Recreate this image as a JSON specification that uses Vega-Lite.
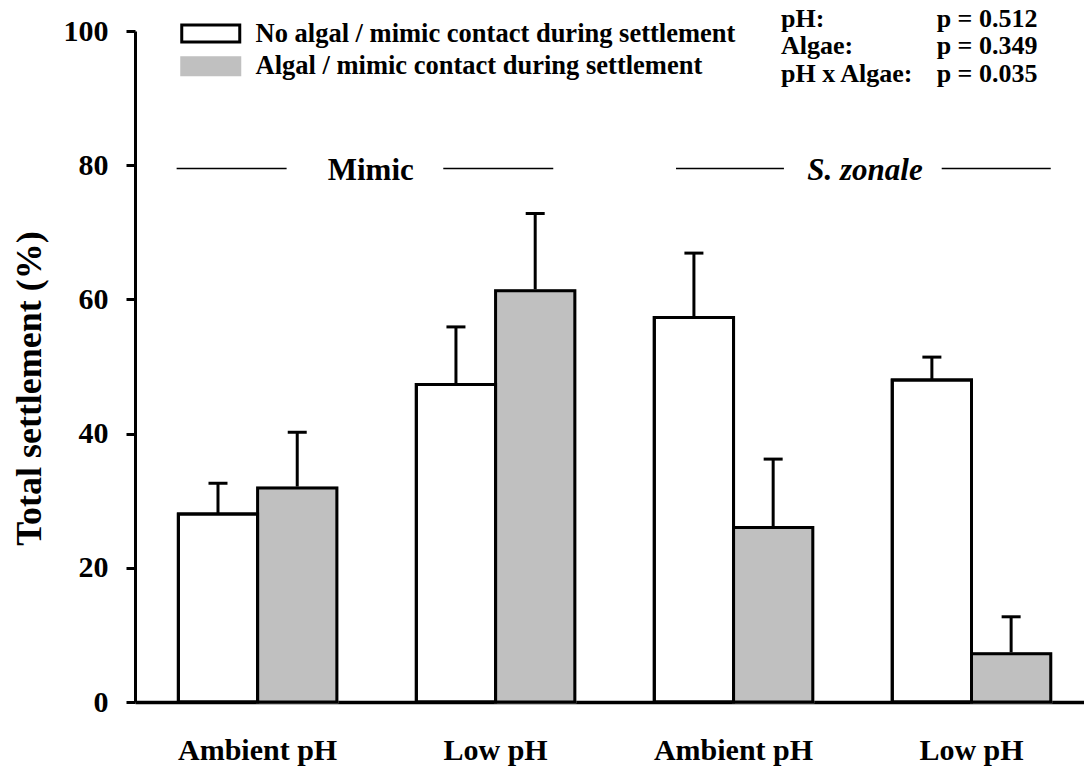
{
  "$schema": "https://vega.github.io/schema/vega-lite/v6.json",
  "width": 949,
  "height": 671,
  "autosize": "none",
  "padding": {"left": 135, "top": 31, "right": 0, "bottom": 69},
  "background": "white",
  "config": {
    "font": "Liberation Serif, Times New Roman, serif",
    "text": {"font": "Liberation Serif, Times New Roman, serif"},
    "view": {"stroke": null},
    "axis": {"domainColor": "black", "tickColor": "black", "labelColor": "black", "titleColor": "black", "grid": false, "labelFont": "Liberation Serif, Times New Roman, serif", "titleFont": "Liberation Serif, Times New Roman, serif"},
    "legend": {"labelFont": "Liberation Serif, Times New Roman, serif"}
  },
  "data": {
    "values": [
      {"cond": "Mimic|Ambient pH", "group": "No algal / mimic contact during settlement", "value": 28.0, "upper": 32.6},
      {"cond": "Mimic|Ambient pH", "group": "Algal / mimic contact during settlement", "value": 31.9, "upper": 40.2},
      {"cond": "Mimic|Low pH", "group": "No algal / mimic contact during settlement", "value": 47.3, "upper": 55.9},
      {"cond": "Mimic|Low pH", "group": "Algal / mimic contact during settlement", "value": 61.3, "upper": 72.8},
      {"cond": "S. zonale|Ambient pH", "group": "No algal / mimic contact during settlement", "value": 57.3, "upper": 66.9},
      {"cond": "S. zonale|Ambient pH", "group": "Algal / mimic contact during settlement", "value": 26.0, "upper": 36.2},
      {"cond": "S. zonale|Low pH", "group": "No algal / mimic contact during settlement", "value": 48.0, "upper": 51.4},
      {"cond": "S. zonale|Low pH", "group": "Algal / mimic contact during settlement", "value": 7.2, "upper": 12.7}
    ]
  },
  "layer": [
    {
      "mark": {"type": "rule", "stroke": "black", "strokeWidth": 3},
      "encoding": {
        "x": {"field": "cond", "type": "nominal"},
        "xOffset": {"field": "group", "type": "nominal"},
        "y": {"field": "value", "type": "quantitative"},
        "y2": {"field": "upper"}
      }
    },
    {
      "mark": {"type": "tick", "fill": "black", "size": 19, "thickness": 3, "opacity": 1},
      "encoding": {
        "x": {"field": "cond", "type": "nominal"},
        "xOffset": {"field": "group", "type": "nominal"},
        "y": {"field": "upper", "type": "quantitative"}
      }
    },
    {
      "mark": {"type": "bar", "strokeWidth": 3, "opacity": 1},
      "encoding": {
        "x": {
          "field": "cond", "type": "nominal", "sort": null,
          "scale": {"type": "band", "paddingInner": 0.334, "paddingOuter": 0.161, "align": 0.566},
          "axis": {"title": null, "bandPosition": 0.5, "labelExpr": "split(datum.value, '|')[1]", "labelAngle": 0, "labelAlign": "center", "labelFontSize": 30, "labelFontWeight": "bold", "ticks": false, "tickSize": 0, "labelPadding": 57, "labelBaseline": "alphabetic", "domainWidth": 3.5}
        },
        "xOffset": {
          "field": "group", "type": "nominal",
          "scale": {"domain": ["No algal / mimic contact during settlement", "Algal / mimic contact during settlement"], "paddingInner": 0, "paddingOuter": 0}
        },
        "y": {
          "field": "value", "type": "quantitative",
          "scale": {"domain": [0, 100], "nice": false},
          "axis": {"values": [0, 20, 40, 60, 80, 100], "title": "Total settlement (%)", "titleFontSize": 36, "titleFontWeight": "bold", "titleAngle": 270, "titleBaseline": "middle", "titleAlign": "center", "titleX": -106, "titleY": 357, "labelFontSize": 30, "labelFontWeight": "bold", "labelPadding": 18, "tickSize": 9, "tickWidth": 3, "domainWidth": 3}
        },
        "fill": {
          "field": "group", "type": "nominal",
          "scale": {"domain": ["No algal / mimic contact during settlement", "Algal / mimic contact during settlement"], "range": ["white", "#c0c0c0"]},
          "legend": {
            "title": null, "orient": "none", "legendX": 62.5, "legendY": -10.7, "padding": 0,
            "symbolType": "M-2.522,-0.739H2.522V0.739H-2.522Z", "symbolSize": 529, "symbolStrokeWidth": 3,
            "labelFontSize": 26.5, "labelFontWeight": "bold", "labelColor": "black", "labelOffset": 31.5, "rowPadding": 2.8, "labelLimit": 0
          }
        },
        "stroke": {
          "field": "group", "type": "nominal",
          "scale": {"domain": ["No algal / mimic contact during settlement", "Algal / mimic contact during settlement"], "range": ["black", "#c0c0c0"]}
        }
      }
    },
    {
      "mark": {"type": "bar", "filled": false, "stroke": "black", "strokeWidth": 3, "opacity": 1},
      "encoding": {
        "x": {"field": "cond", "type": "nominal", "sort": null},
        "xOffset": {"field": "group", "type": "nominal"},
        "y": {"field": "value", "type": "quantitative"}
      }
    },
    {
      "data": {"values": [{}]},
      "mark": {"type": "rule", "stroke": "black", "strokeWidth": 1.5},
      "encoding": {
        "x": {"datum": "Mimic|Ambient pH", "bandPosition": -0.011},
        "x2": {"datum": "Mimic|Ambient pH", "bandPosition": 0.683},
        "y": {"datum": 79.5}
      }
    },
    {
      "data": {"values": [{}]},
      "mark": {"type": "rule", "stroke": "black", "strokeWidth": 1.5},
      "encoding": {
        "x": {"datum": "Mimic|Low pH", "bandPosition": 0.17},
        "x2": {"datum": "Mimic|Low pH", "bandPosition": 0.864},
        "y": {"datum": 79.5}
      }
    },
    {
      "data": {"values": [{}]},
      "mark": {"type": "rule", "stroke": "black", "strokeWidth": 1.5},
      "encoding": {
        "x": {"datum": "S. zonale|Ambient pH", "bandPosition": 0.137},
        "x2": {"datum": "S. zonale|Ambient pH", "bandPosition": 0.818},
        "y": {"datum": 79.5}
      }
    },
    {
      "data": {"values": [{}]},
      "mark": {"type": "rule", "stroke": "black", "strokeWidth": 1.5},
      "encoding": {
        "x": {"datum": "S. zonale|Low pH", "bandPosition": 0.312},
        "x2": {"datum": "S. zonale|Low pH", "bandPosition": 1.0},
        "y": {"datum": 79.5}
      }
    },
    {
      "data": {"values": [{}]},
      "mark": {"type": "text", "text": "Mimic", "fontSize": 31, "fontWeight": "bold", "align": "center", "baseline": "alphabetic", "color": "black"},
      "encoding": {
        "x": {"datum": "Mimic|Ambient pH", "bandPosition": 1.214},
        "y": {"datum": 77.8}
      }
    },
    {
      "data": {"values": [{}]},
      "mark": {"type": "text", "text": "S. zonale", "fontSize": 31, "fontWeight": "bold", "fontStyle": "italic", "align": "center", "baseline": "alphabetic", "color": "black"},
      "encoding": {
        "x": {"datum": "S. zonale|Ambient pH", "bandPosition": 1.329},
        "y": {"datum": 77.8}
      }
    },
    {
      "data": {"values": [{}]},
      "mark": {"type": "text", "text": ["pH:", "Algae:", "pH x Algae:"], "lineHeight": 27.5, "fontSize": 26, "fontWeight": "bold", "align": "left", "baseline": "alphabetic", "color": "black"},
      "encoding": {
        "x": {"datum": "S. zonale|Ambient pH", "bandPosition": 0.8},
        "y": {"datum": 100.6}
      }
    },
    {
      "data": {"values": [{}]},
      "mark": {"type": "text", "text": ["p = 0.512", "p = 0.349", "p = 0.035"], "lineHeight": 27.5, "fontSize": 26, "fontWeight": "bold", "align": "left", "baseline": "alphabetic", "color": "black"},
      "encoding": {
        "x": {"datum": "S. zonale|Low pH", "bandPosition": 0.28},
        "y": {"datum": 100.6}
      }
    }
  ]
}
